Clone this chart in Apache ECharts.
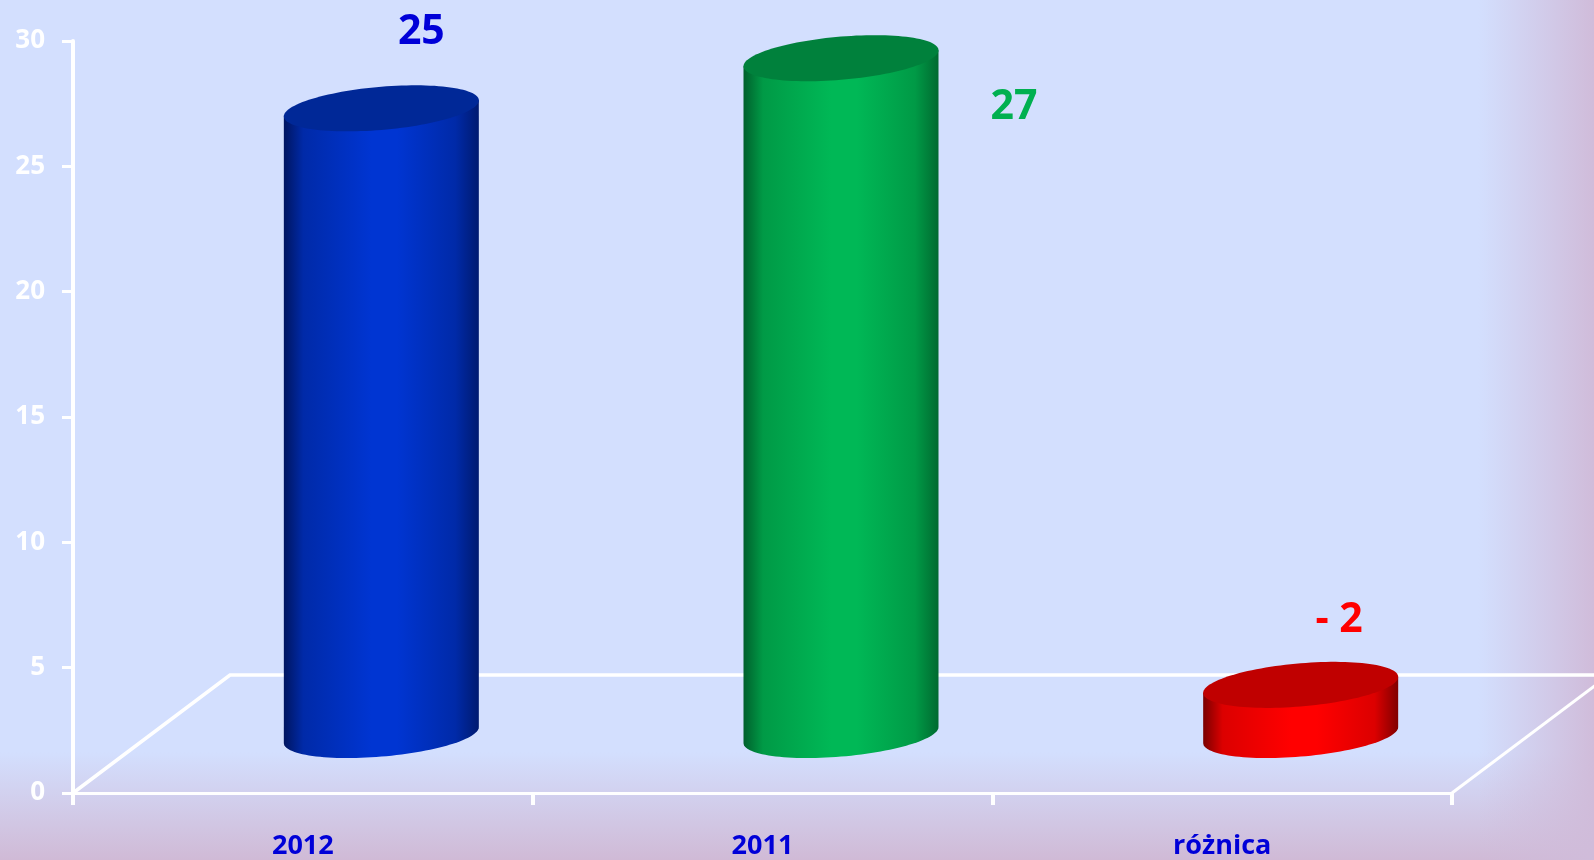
<!DOCTYPE html>
<html>
<head>
<meta charset="utf-8">
<style>html,body{margin:0;padding:0;background:#D3DFFE}#c{width:1594px;height:860px}</style>
<script src="https://cdn.jsdelivr.net/npm/echarts@6/dist/echarts.min.js"></script>
</head>
<body>
<div id="c"></div>
<script>
const categories = ['2012', '2011', 'różnica'];
const drawnValues = [25, 27, 2];
const valueLabels = ['25', '27', '- 2'];
const labelColors = ['#0000D8', '#00B050', '#FF0000'];
const yTicks = { min: 0, max: 30, interval: 5 };

// depth of the fake 3D floor and cylinder shape (pixels)
const DEPTH = { dx: 157, dy: -118 };
const CYL = { dx: 78.5, dy: -58, rx: 97.5, tilt: 8, ry: 21.6 };
const LABEL_NUDGE = [[40, -76], [173, 49], [38.5, -65]];
const SHADES = [
  { edgeL: '#001560', soft: '#002AA8', mid: '#0035D2', edgeR: '#001A70', top: '#002897' },
  { edgeL: '#00602C', soft: '#009A46', mid: '#00B856', edgeR: '#006A30', top: '#00813C' },
  { edgeL: '#7A0000', soft: '#DC0000', mid: '#FF0000', edgeR: '#800000', top: '#C00000' }
];
const FONT = '"Open Sans", sans-serif';

function ell(cx, cy, from, to, n) {
  const pts = [];
  for (let i = 0; i <= n; i++) {
    const t = from + (to - from) * i / n;
    const c = Math.cos(t), s = Math.sin(t);
    pts.push([cx + CYL.rx * c, cy - CYL.tilt * c + CYL.ry * s]);
  }
  return pts;
}

function renderFloor(params, api) {
  const cs = params.coordSys;
  const x0 = cs.x, x1 = cs.x + cs.width, y0 = cs.y + cs.height;
  const line = { stroke: '#FFFFFF', lineWidth: 3, fill: null };
  return {
    type: 'group', children: [
      { type: 'polyline', shape: { points: [[x0, y0], [x0 + DEPTH.dx, y0 + DEPTH.dy], [1600, y0 + DEPTH.dy]] }, style: { stroke: '#FFFFFF', lineWidth: 3.5, fill: null } },
      { type: 'polyline', shape: { points: [[x1, y0], [x1 + DEPTH.dx, y0 + DEPTH.dy]] }, style: line }
    ]
  };
}

function renderCylinder(params, api) {
  const i = params.dataIndex;
  const topP = api.coord([i, api.value(1)]);
  const baseP = api.coord([i, 0]);
  const cx = topP[0] + CYL.dx, yTop = topP[1] + CYL.dy, yBase = baseP[1] + CYL.dy;
  const sh = SHADES[i];
  const body = [[cx - CYL.rx, yTop + CYL.tilt], [cx + CYL.rx, yTop - CYL.tilt]]
    .concat(ell(cx, yBase, 0, Math.PI, 60));
  const top = ell(cx, yTop, 0, Math.PI * 2, 120);
  const grad = new echarts.graphic.LinearGradient(0, 0, 1, 0, [
    { offset: 0, color: sh.edgeL }, { offset: 0.1, color: sh.soft },
    { offset: 0.45, color: sh.mid }, { offset: 0.58, color: sh.mid },
    { offset: 0.88, color: sh.soft }, { offset: 1, color: sh.edgeR }
  ]);
  return {
    type: 'group', children: [
      { type: 'polygon', shape: { points: body }, style: { fill: grad } },
      { type: 'polygon', shape: { points: top }, style: { fill: sh.top } },
      {
        type: 'text', x: cx + LABEL_NUDGE[i][0], y: yTop + LABEL_NUDGE[i][1],
        style: {
          text: valueLabels[i], fill: labelColors[i], font: 'bold 41px ' + FONT,
          textAlign: 'center', textVerticalAlign: 'middle'
        }
      }
    ]
  };
}

const chart = echarts.init(document.getElementById('c'), null, { renderer: 'canvas', width: 1594, height: 860 });
chart.setOption({
  animation: false,
  backgroundColor: '#D3DFFE',
  graphic: [
    { type: 'rect', silent: true, z: 0, shape: { x: 0, y: 752, width: 1594, height: 108 },
      style: { fill: new echarts.graphic.LinearGradient(0, 0, 0, 1, [
        { offset: 0, color: 'rgba(208,186,214,0)' }, { offset: 1, color: 'rgba(208,186,214,1)' }]) } },
    { type: 'rect', silent: true, z: 0, shape: { x: 1478, y: 0, width: 116, height: 860 },
      style: { fill: new echarts.graphic.LinearGradient(0, 0, 1, 0, [
        { offset: 0, color: 'rgba(208,188,218,0)' }, { offset: 1, color: 'rgba(208,188,218,1)' }]) } }
  ],
  grid: { left: 73, right: 142, top: 41, bottom: 67 },
  xAxis: {
    type: 'category', data: categories,
    axisLine: { lineStyle: { color: '#FFFFFF', width: 3 } },
    axisTick: { show: true, alignWithLabel: false, length: 12, lineStyle: { color: '#FFFFFF', width: 4 } },
    axisLabel: { color: '#0000D8', fontFamily: FONT, fontWeight: 'bold', fontSize: 27, margin: 40 }
  },
  yAxis: {
    type: 'value', min: yTicks.min, max: yTicks.max, interval: yTicks.interval,
    splitLine: { show: false },
    axisLine: { show: true, lineStyle: { color: '#FFFFFF', width: 4 } },
    axisTick: { show: true, length: 11, lineStyle: { color: '#FFFFFF', width: 3 } },
    axisLabel: { color: '#FFFFFF', fontFamily: FONT, fontWeight: 'bold', fontSize: 26, margin: 28, padding: [0, 0, 4, 0] }
  },
  series: [
    { type: 'custom', coordinateSystem: 'cartesian2d', renderItem: renderFloor, silent: true, z: 3, data: [[0, 0]], encode: { x: 0, y: 1 } },
    { type: 'custom', coordinateSystem: 'cartesian2d', renderItem: renderCylinder, z: 4,
      data: categories.map((c, i) => [i, drawnValues[i]]), encode: { x: 0, y: 1 } }
  ]
});
</script>
</body>
</html>
